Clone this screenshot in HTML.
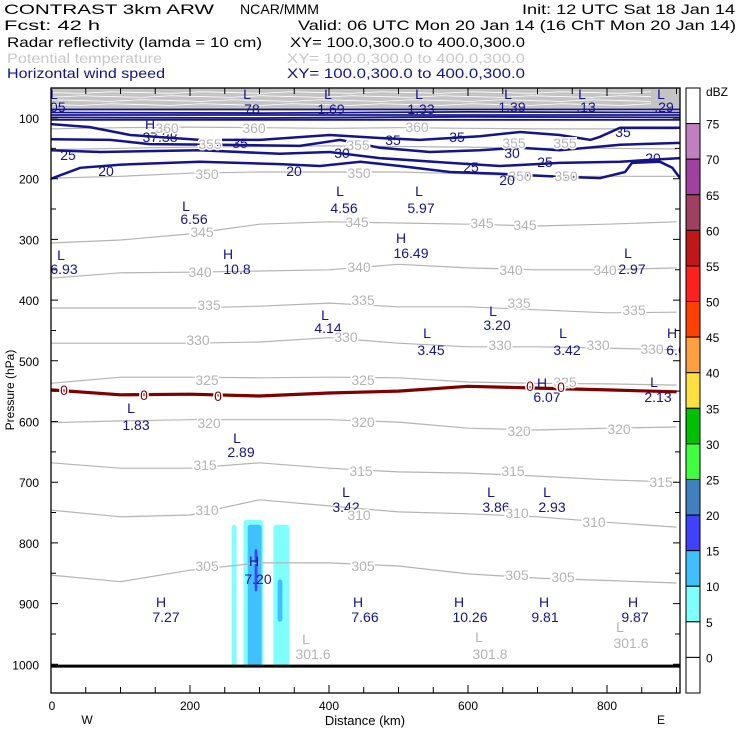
<!DOCTYPE html>
<html><head><meta charset="utf-8">
<style>
html,body{margin:0;padding:0;background:#fff;}
svg{display:block;font-family:"Liberation Sans",sans-serif;}
</style></head>
<body>
<svg id="chart" xmlns="http://www.w3.org/2000/svg" width="740" height="740" viewBox="0 0 740 740">
  <g font-size="14" fill="#000">
    <text x="4" y="14" textLength="210" lengthAdjust="spacingAndGlyphs">CONTRAST  3km ARW</text>
    <text x="240" y="14" textLength="79" lengthAdjust="spacingAndGlyphs">NCAR/MMM</text>
    <text x="522" y="14" textLength="213" lengthAdjust="spacingAndGlyphs">Init: 12 UTC Sat 18 Jan 14</text>
    <text x="4" y="30" textLength="96" lengthAdjust="spacingAndGlyphs">Fcst:    42 h</text>
    <text x="298" y="30" textLength="438" lengthAdjust="spacingAndGlyphs">Valid: 06 UTC Mon 20 Jan 14 (16 ChT Mon 20 Jan 14)</text>
    <text x="7" y="47" textLength="255" lengthAdjust="spacingAndGlyphs">Radar reflectivity (lamda = 10 cm)</text>
    <text x="290" y="47" textLength="235" lengthAdjust="spacingAndGlyphs">XY= 100.0,300.0 to 400.0,300.0</text>
    <text x="7" y="63" fill="#c8c8c8" textLength="155" lengthAdjust="spacingAndGlyphs">Potential temperature</text>
    <text x="287" y="63" fill="#c8c8c8" textLength="238" lengthAdjust="spacingAndGlyphs">XY= 100.0,300.0 to 400.0,300.0</text>
    <text x="7" y="78" fill="#14148c" textLength="158" lengthAdjust="spacingAndGlyphs">Horizontal wind speed</text>
    <text x="287" y="78" fill="#14148c" textLength="238" lengthAdjust="spacingAndGlyphs">XY= 100.0,300.0 to 400.0,300.0</text>
  </g>
  <g id="plot"></g>
  <g id="cbar"></g>
  <text x="365" y="725" font-size="13" text-anchor="middle">Distance (km)</text>
  <text x="87" y="724" font-size="12" text-anchor="middle">W</text>
  <text x="661" y="724" font-size="12" text-anchor="middle">E</text>
  <text x="0" y="0" font-size="12" text-anchor="middle" transform="translate(14,390) rotate(-90)">Pressure (hPa)</text>
</svg>
<script>
// ---- data ----
const thetaKm = [0,100,200,300,400,500,600,700,800,900];
const theta360 = [118,116,115,116,117,116,117,118,118,118];
const theta355 = [152,150,148,147,146,147,148,150,150,151];
const theta350 = [199,196,191,189,189,189,192,196,196,196];
const theta345 = [306,301,291,275,271,273,275,278,275,271];
const theta340 = [364,355,354,352,350,341,347,350,350,347];
const theta335 = [413,413,413,410,405,411,411,416,421,420];
const theta330 = [471,471,471,469,462,471,477,477,479,482];
const theta325 = [537,527,527,528,527,528,535,537,538,540];
const theta320 = [602,599,597,597,597,601,611,614,611,609];
const theta315 = [668,677,677,668,677,683,685,690,696,700];
const theta310 = [746,757,754,729,739,749,752,757,766,774];
const theta305 = [853,864,845,833,833,838,851,858,862,866];
const isoZero = [548,556,555,558,553,550,542,545,548,551];

const wind35Km = [0,56,114,214,301,401,473,531,617,675,732,776,790,819,905];
const wind35P  = [110,115,128,136,136,128,133,136,130,123,128,136,131,116,116];
const wind30Km = [0,85,142,243,358,416,473,545,617,675,732,819,905];
const wind30P  = [135,136,143,144,146,136,149,156,153,149,153,144,141];
const wind25Km = [0,71,214,329,401,473,574,646,732,819,905];
const wind25P  = [153,156,153,159,156,166,174,179,174,172,166];
const wind20Km = [0,42,99,214,329,387,445,502,574,646,718,790,826,836,876,894,905];
const wind20P  = [200,182,177,172,176,179,172,179,189,192,196,199,189,174,172,182,199];
const jetLevels = [86,91,95,99,103];

// reflectivity cells: [km0, km1, pTop, pBottom]
const dbzCyan = [[260,267,770,1003],[277,305,762,1003],[320,343,770,1003]];
const dbzLight = [[283,303,770,1003],[326,333,860,930]];
const dbzBlue = [[293,297,810,880]];

const pTicks = [100,200,300,400,500,600,700,800,900,1000];
const kmTicks = [0,200,400,600,800];
const cbarLabels = ['75','70','65','60','55','50','45','40','35','30','25','20','15','10','5','0'];
const cbarColors = ['#ffffff','#c080c0','#a040a0','#a04060','#c01818','#ff2020','#ff4000','#ffa040','#ffe040','#00c000','#40ff40','#4080c0','#4040ff','#40c0ff','#80ffff','#ffffff','#ffffff'];

// ---- axes ----
const X0=51, X1=680, Y0=88, Y1=693;
function xs(km){return X0 + km*0.695;}
function ys(p){return 118 + (p-100)*0.607;}
const NS='http://www.w3.org/2000/svg';
const plot=document.getElementById('plot');
const cbar=document.getElementById('cbar');
function mk(tag, parent){const e=document.createElementNS(NS,tag);(parent||plot).appendChild(e);return e;}
function line(kms, ps){return kms.map((k,i)=>(i?'L':'M')+xs(k).toFixed(1)+','+ys(ps[i]).toFixed(1)).join('');}

const defs=mk('defs');
defs.innerHTML='<clipPath id="clip"><rect x="51" y="88" width="629" height="605"/></clipPath>';
const g=mk('g'); g.setAttribute('clip-path','url(#clip)');



const band=mk('rect',g);


band.setAttribute('x',X0);band.setAttribute('y',Y0);band.setAttribute('width',X1-X0);band.setAttribute('height',ys(jetLevels[0])-Y0);band.setAttribute('fill','#c4c4c4');
[92,96,100,104].forEach(function(y,i){
  const w=mk('path',g);
  
  
  let d='M51,'+y;
  for(let x=51;x<=680;x+=30){d+=' L'+x+','+(y+((x/30+i)%3-1)*0.8);}
  w.setAttribute('d',d);w.setAttribute('stroke','#fff');w.setAttribute('stroke-width','0.8');w.setAttribute('fill','none');
});

function cells(arr,color,name){arr.forEach(function(c){
  const r=mk('rect',g);
  
  
  r.setAttribute('x',xs(c[0]));r.setAttribute('y',ys(c[2]));
  r.setAttribute('width',xs(c[1])-xs(c[0]));r.setAttribute('height',ys(c[3])-ys(c[2]));
  r.setAttribute('rx',3);r.setAttribute('fill',color);
});}
cells(dbzCyan,'#80ffff','reflectivity-5dbz');
cells(dbzLight,'#40c0ff','reflectivity-10dbz');
cells(dbzBlue,'#4040ff','reflectivity-15dbz');

[theta360,theta355,theta350,theta345,theta340,theta335,theta330,theta325,theta320,theta315,theta310,theta305].forEach(function(arr){
  const p=mk('path',g);
  
  
  p.setAttribute('d',line(thetaKm,arr));p.setAttribute('stroke','#b4b4b4');p.setAttribute('stroke-width','1.2');p.setAttribute('fill','none');
});
const iz=mk('path',g);


iz.setAttribute('d',line(thetaKm,isoZero));iz.setAttribute('stroke','#800000');iz.setAttribute('stroke-width','3.2');iz.setAttribute('fill','none');

jetLevels.forEach(function(pv,i){
  const p=mk('path',g);
  
  
  p.setAttribute('d',line([0,300,600,905],[pv,pv+(i%2),pv-(i%2),pv]));p.setAttribute('stroke','#14148c');p.setAttribute('stroke-width','1.8');p.setAttribute('fill','none');
});
[[wind35Km,wind35P],[wind30Km,wind30P],[wind25Km,wind25P],[wind20Km,wind20P]].forEach(function(s){
  const p=mk('path',g);
  
  
  p.setAttribute('d',line(s[0],s[1]));p.setAttribute('stroke','#14148c');p.setAttribute('stroke-width','2.5');p.setAttribute('fill','none');
});

const sf=mk('path',g);


sf.setAttribute('d','M51,'+ys(1003)+' L680,'+ys(1003));sf.setAttribute('stroke','#000');sf.setAttribute('stroke-width','3');

const NV='#14148c', GR='#b4b4b4';
const labels=[
 ['L',54,99,NV],['5.05',52,112,NV],['L',247,99,NV],['.78',250,114,NV],['L',328,99,NV],['1.69',331,114,NV],['L',419,99,NV],['1.33',421,114,NV],['L',508,99,NV],['1.39',512,112,NV],['L',582,99,NV],['.13',586,112,NV],['L',661,99,NV],['.29',664,112,NV],
 ['H',150,129,NV],['37.38',160,142,NV],
 ['360',167,133,GR],['360',254,133,GR],['360',417,132,GR],['355',210,149,GR],['355',358,150,GR],['355',514,148,GR],['355',565,148,GR],
 ['350',207,179,GR],['350',359,178,GR],['350',520,181,GR],['350',566,181,GR],
 ['35',240,148,NV],['35',393,145,NV],['35',457,142,NV],['35',623,137,NV],['30',342,158,NV],['30',512,158,NV],['25',68,160,NV],['25',471,172,NV],['25',545,167,NV],['20',106,176,NV],['20',294,176,NV],['20',507,185,NV],['20',653,163,NV],
 ['L',186,211,NV],['6.56',194,224,NV],['L',340,196,NV],['4.56',344,213,NV],['L',419,196,NV],['5.97',421,213,NV],
 ['H',401,243,NV],['16.49',411,258,NV],['L',61,260,NV],['6.93',64,274,NV],['H',228,259,NV],['10.8',237,274,NV],['L',628,258,NV],['2.97',632,274,NV],
 ['L',325,320,NV],['4.14',328,333,NV],['L',493,316,NV],['3.20',497,330,NV],['L',427,338,NV],['3.45',431,355,NV],['L',563,338,NV],['3.42',567,355,NV],['H',672,338,NV],['6.6',676,355,NV],
 ['H',542,388,NV],['6.07',547,402,NV],['L',654,387,NV],['2.13',658,402,NV],['L',131,413,NV],['1.83',136,430,NV],
 ['L',237,443,NV],['2.89',241,457,NV],['L',346,497,NV],['3.42',346,512,NV],['L',491,497,NV],['3.86',496,512,NV],['L',547,497,NV],['2.93',552,512,NV],
 ['H',254,566,NV],['7.20',258,584,NV],['H',161,607,NV],['7.27',166,622,NV],['H',358,607,NV],['7.66',365,622,NV],['H',459,607,NV],['10.26',470,622,NV],['H',544,607,NV],['9.81',545,622,NV],['H',633,607,NV],['9.87',635,622,NV],
 ['L',306,644,GR],['301.6',313,659,GR],['L',479,642,GR],['301.8',490,659,GR],['L',620,632,GR],['301.6',631,648,GR],
 ['345',202,237,GR],['345',357,227,GR],['345',482,228,GR],['345',525,230,GR],
 ['340',200,277,GR],['340',359,272,GR],['340',511,275,GR],['340',605,275,GR],
 ['335',209,310,GR],['335',363,305,GR],['335',519,308,GR],['335',634,315,GR],
 ['330',198,345,GR],['330',346,342,GR],['330',500,350,GR],['330',598,350,GR],['330',652,354,GR],
 ['325',207,385,GR],['325',363,385,GR],['325',565,387,GR],
 ['0',64,395,'#800000'],['0',144,400,'#800000'],['0',218,401,'#800000'],['0',530,391,'#800000'],['0',561,392,'#800000'],
 ['320',209,428,GR],['320',363,427,GR],['320',519,436,GR],['320',619,434,GR],
 ['315',205,470,GR],['315',361,476,GR],['315',513,476,GR],['315',661,487,GR],
 ['310',207,515,GR],['310',359,520,GR],['310',517,518,GR],['310',594,527,GR],
 ['305',207,571,GR],['305',363,571,GR],['305',517,580,GR],['305',563,582,GR]
];
labels.forEach(function(l){
  const t=mk('text',g);
  
  
  t.setAttribute('x',l[1]);t.setAttribute('y',l[2]);t.setAttribute('fill',l[3]);
  t.setAttribute('font-size','14');t.setAttribute('text-anchor','middle');
  if(l[3]!==NV){t.setAttribute('stroke','#fff');t.setAttribute('stroke-width','3');t.setAttribute('paint-order','stroke');}
  t.textContent=l[0];
});

const fr=mk('rect');


fr.setAttribute('x',X0);fr.setAttribute('y',Y0);fr.setAttribute('width',X1-X0);fr.setAttribute('height',Y1-Y0);fr.setAttribute('fill','none');fr.setAttribute('stroke','#000');fr.setAttribute('stroke-width','1.3');

for(let p=100;p<=1000;p+=50){
  const major=(p%100===0);
  const tk=mk('path');
  
  
  const y=ys(p), L=major?7:5;
  tk.setAttribute('d','M51,'+y+'h'+L+'M680,'+y+'h-'+L);tk.setAttribute('stroke','#000');
}
pTicks.forEach(function(p){
  const t=mk('text');
  
  
  t.setAttribute('x',39);t.setAttribute('y',ys(p)+5);t.setAttribute('font-size','12');t.setAttribute('text-anchor','end');
  t.textContent=p;
});
for(let k=0;k<=900;k+=50){
  const tk=mk('path');
  
  
  const x=xs(k), L=(k%200===0)?8:6;
  tk.setAttribute('d','M'+x+','+Y1+'v-'+L+'M'+x+','+Y0+'v'+L);tk.setAttribute('stroke','#000');
}
kmTicks.forEach(function(k){
  const t=mk('text');
  
  
  t.setAttribute('x',xs(k)+(k===0?1:0));t.setAttribute('y',710);t.setAttribute('font-size','12');t.setAttribute('text-anchor','middle');
  t.textContent=k;
});

const CB0=88, CBH=(693-88)/17;
cbarColors.forEach(function(c,i){
  const r=mk('rect',cbar);
  
  
  r.setAttribute('x',686);r.setAttribute('y',CB0+i*CBH);r.setAttribute('width',14);r.setAttribute('height',CBH);
  r.setAttribute('fill',c);r.setAttribute('stroke','#000');r.setAttribute('stroke-width','1');
});
cbarLabels.forEach(function(s,i){
  const t=mk('text',cbar);
  
  
  t.setAttribute('x',706);t.setAttribute('y',CB0+(i+1)*CBH+5);t.setAttribute('font-size','12');
  t.textContent=s;
});
const dz=mk('text',cbar);


dz.setAttribute('x',706);dz.setAttribute('y',96);dz.setAttribute('font-size','12');
dz.textContent='dBZ';
</script>
</body></html>
